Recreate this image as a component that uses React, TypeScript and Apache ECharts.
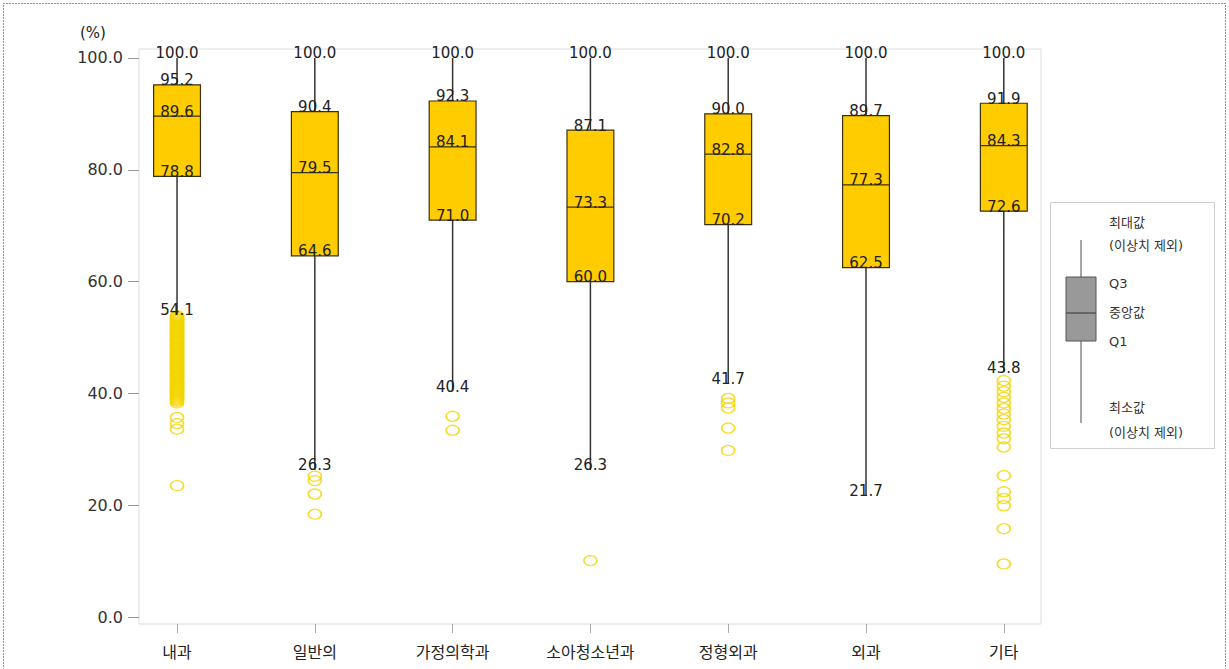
import React, { useEffect, useRef } from "react";
import * as echarts from "echarts";

const categories = ["내과", "일반의", "가정의학과", "소아청소년과", "정형외과", "외과", "기타"];
// [min (excl. outliers), Q1, median, Q3, max]
const minVals = [54.1, 26.3, 40.4, 26.3, 41.7, 21.7, 43.8];
const q1Vals = [78.8, 64.6, 71.0, 60.0, 70.2, 62.5, 72.6];
const medianVals = [89.6, 79.5, 84.1, 73.3, 82.8, 77.3, 84.3];
const q3Vals = [95.2, 90.4, 92.3, 87.1, 90.0, 89.7, 91.9];
const maxVals = [100.0, 100.0, 100.0, 100.0, 100.0, 100.0, 100.0];

const outliers0 = [
  53.9, 53.7, 53.5, 53.3, 53.2, 53.0, 52.8, 52.6, 52.4, 52.2, 52.1, 51.9, 51.7, 51.5, 51.3,
  51.1, 50.9, 50.8, 50.6, 50.4, 50.2, 50.0, 49.8, 49.7, 49.5, 49.3, 49.1, 48.9, 48.7, 48.5,
  48.3, 48.2, 48.0, 47.8, 47.6, 47.4, 47.2, 47.0, 46.9, 46.7, 46.5, 46.3, 46.1, 45.9, 45.7,
  45.6, 45.4, 45.2, 45.0, 44.8, 44.6, 44.4, 44.3, 44.1, 43.9, 43.7, 43.5, 43.3, 43.1, 43.0,
  42.8, 42.6, 42.4, 42.2, 42.0, 41.8, 41.7, 41.5, 41.3, 41.1, 40.9, 40.7, 40.5, 40.4, 40.2,
  40.0, 39.8, 39.6, 39.4, 39.2, 39.0, 38.8, 38.6, 38.3, 35.7, 34.6, 33.6, 23.5,
];
const outliers1 = [25.2, 24.4, 22.0, 18.4];
const outliers2 = [35.9, 33.4];
const outliers3 = [10.1];
const outliers4 = [39.1, 38.3, 37.4, 33.8, 29.8];
const outliers5: number[] = [];
const outliers6 = [
  42.3, 41.3, 40.3, 39.3, 38.3, 37.3, 36.3, 35.3, 34.1, 32.9, 31.9, 30.4, 25.3, 22.4, 21.2,
  19.9, 15.8, 9.5,
];
const outlierLists = [outliers0, outliers1, outliers2, outliers3, outliers4, outliers5, outliers6];
const yTicks = [0, 20, 40, 60, 80, 100];
const legendTexts = ["최대값", "(이상치 제외)", "Q3", "중앙값", "Q1", "최소값", "(이상치 제외)"];

const FONT = "'DejaVu Sans', 'Noto Sans CJK KR', sans-serif";

export default function App() {
  const ref = useRef<HTMLDivElement>(null);
  useEffect(() => {
    if (!ref.current) return;
    const chart = echarts.init(ref.current, null, { renderer: "svg" });
    const boxData = categories.map((_, i) => [i, minVals[i], q1Vals[i], medianVals[i], q3Vals[i], maxVals[i]]);
    const outData: number[][] = [];
    outlierLists.forEach((list, i) => list.forEach((v) => outData.push([i, v])));
    const catIdx = categories.map((_, i) => i);

    const lbl = (x: number, y: number, v: number) => ({
      type: "text",
      x,
      y: y + 3,
      style: {
        text: v.toFixed(1),
        fill: "#222",
        font: `15px ${FONT}`,
        align: "center",
        verticalAlign: "bottom",
      },
      z2: 20,
    });

    const option: any = {
      animation: false,
      backgroundColor: "#fff",
      grid: {
        left: 139,
        top: 49,
        width: 902,
        height: 575,
        show: true,
        borderColor: "#dcdcdc",
        borderWidth: 1,
        backgroundColor: "transparent",
      },
      xAxis: {
        type: "value",
        min: -0.276,
        max: 6.27,
        axisLine: { show: false, onZero: false },
        splitLine: { show: false },
        axisTick: { show: true, customValues: catIdx, length: 9, lineStyle: { color: "#aaa" } },
        axisLabel: {
          customValues: catIdx,
          formatter: (v: number) => categories[Math.round(v)] ?? "",
          fontSize: 16,
          color: "#222",
          margin: 20,
          fontFamily: FONT,
        },
      },
      yAxis: {
        type: "value",
        min: -1.25,
        max: 101.6,
        axisLine: { show: false, onZero: false },
        splitLine: { show: false },
        axisTick: { show: true, customValues: yTicks, length: 11, lineStyle: { color: "#999" } },
        axisLabel: {
          customValues: yTicks,
          formatter: (v: number) => v.toFixed(1),
          fontSize: 16,
          color: "#333",
          margin: 16,
          fontFamily: FONT,
        },
      },
      graphic: [
        {
          type: "rect",
          shape: { x: 3.5, y: 3.5, width: 1222, height: 680 },
          style: { fill: "none", stroke: "#222", lineWidth: 1, lineDash: [1, 2] },
          silent: true,
        },
        {
          type: "text",
          x: 93,
          y: 33,
          style: { text: "(%)", fill: "#222", font: `15px ${FONT}`, align: "center", verticalAlign: "middle" },
        },
        {
          type: "rect",
          shape: { x: 1050.5, y: 202.5, width: 164, height: 246 },
          style: { fill: "#fff", stroke: "#d0d0d0", lineWidth: 1 },
        },
        {
          type: "line",
          shape: { x1: 1081, y1: 240, x2: 1081, y2: 423 },
          style: { stroke: "#888", lineWidth: 1.5 },
        },
        {
          type: "rect",
          shape: { x: 1066, y: 277, width: 30, height: 64 },
          style: { fill: "#999", stroke: "#555", lineWidth: 1 },
        },
        {
          type: "line",
          shape: { x1: 1066, y1: 313, x2: 1096, y2: 313 },
          style: { stroke: "#555", lineWidth: 1.5 },
        },
        ...legendTexts.map((t, k) => ({
          type: "text",
          x: 1109,
          y: [222, 245, 283, 312, 341, 407, 432][k],
          style: { text: t, fill: "#333", font: `13px ${FONT}`, align: "left", verticalAlign: "middle" },
        })),
      ],
      series: [
        {
          type: "scatter",
          data: outData,
          symbol: "circle",
          symbolSize: [13, 10],
          itemStyle: { color: "transparent", borderColor: "#F3D400", borderWidth: 1.5 },
          z: 2,
        },
        {
          type: "custom",
          data: boxData,
          z: 3,
          renderItem: (params: any, api: any) => {
            const i = api.value(0);
            const vMin = api.value(1);
            const vQ1 = api.value(2);
            const vMed = api.value(3);
            const vQ3 = api.value(4);
            const vMax = api.value(5);
            const pMin = api.coord([i, vMin]);
            const pQ1 = api.coord([i, vQ1]);
            const pMed = api.coord([i, vMed]);
            const pQ3 = api.coord([i, vQ3]);
            const pMax = api.coord([i, vMax]);
            const bw = api.size([1, 0])[0] * 0.34;
            const cx = pMin[0];
            return {
              type: "group",
              children: [
                {
                  type: "line",
                  shape: { x1: cx, y1: pMax[1], x2: cx, y2: pMin[1] },
                  style: { stroke: "#333", lineWidth: 1.5 },
                },
                {
                  type: "rect",
                  shape: { x: cx - bw / 2, y: pQ3[1], width: bw, height: pQ1[1] - pQ3[1] },
                  style: { fill: "#FFCC00", stroke: "#3a3010", lineWidth: 1.2 },
                },
                {
                  type: "line",
                  shape: { x1: cx - bw / 2, y1: pMed[1], x2: cx + bw / 2, y2: pMed[1] },
                  style: { stroke: "#3a3010", lineWidth: 1.2 },
                },
                lbl(cx, pMax[1], vMax),
                lbl(cx, pQ3[1], vQ3),
                lbl(cx, pMed[1], vMed),
                lbl(cx, pQ1[1], vQ1),
                lbl(cx, pMin[1], vMin),
              ],
            };
          },
        },
      ],
    };
    chart.setOption(option);
    return () => chart.dispose();
  }, []);
  return (
    <div
      ref={ref}
      style={{ position: "fixed", left: 0, top: 0, width: 1229, height: 669, background: "#fff" }}
    />
  );
}
